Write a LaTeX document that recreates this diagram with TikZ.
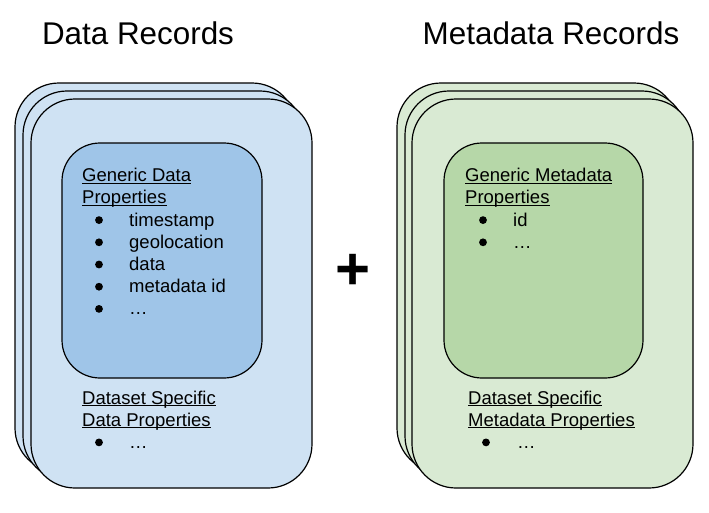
\documentclass[tikz,border=0pt]{standalone}
\usepackage{fontspec}
\setmainfont{Liberation Sans}
\definecolor{bluecard}{HTML}{CFE2F3}
\definecolor{blueinner}{HTML}{9FC5E8}
\definecolor{greencard}{HTML}{D9EAD3}
\definecolor{greeninner}{HTML}{B6D7A8}
\newcommand{\ulx}[1]{\underline{\smash{#1}}}
\begin{document}
\begin{tikzpicture}[x=1pt,y=-1pt,
  card/.style={draw=black, line width=1.2pt, rectangle, rounded corners=44pt,
    minimum width=281pt, minimum height=389pt, inner sep=0pt},
  innerbox/.style={draw=black, line width=1.2pt, rectangle, rounded corners=38pt,
    minimum width=200pt, minimum height=235pt, inner sep=0pt},
  title/.style={font=\fontsize{31.4}{36}\selectfont, inner sep=0pt, anchor=base},
  txt/.style={font=\fontsize{18.5}{22}\selectfont, inner sep=0pt, anchor=base west},
  bul/.style={circle, fill=black, minimum size=7.8pt, inner sep=0pt}
]
\useasboundingbox (0,0) rectangle (709,512);
\fill[white] (0,0) rectangle (709,512);

% titles
\node[title] (t1) at (138,44) {Data Records};
\node[title] (t2) at (551,44) {Metadata Records};

% left stack
\node[card, fill=bluecard] (lc1) at (155.5,277.5) {};
\node[card, fill=bluecard] (lc2) at (163.5,285.5) {};
\node[card, fill=bluecard] (lc3) at (171.5,293.5) {};
\node[innerbox, fill=blueinner] (li) at (162,260.5) {};

\node[txt] (lg1) at (82,181.7) {\ulx{Generic Data}};
\node[txt] (lg2) at (82,203.9) {\ulx{Properties}};
\foreach \y/\t [count=\i] in {226.1/timestamp, 248.3/geolocation, 270.5/data, 292.7/metadata id, 314.9/\dots}{
  \node[bul] (lb\i) at (99,\y-6) {};
  \node[txt] (lt\i) at (129,\y) {\t};
}
\node[txt] (ld1) at (82,404) {\ulx{Dataset Specific}};
\node[txt] (ld2) at (82,426.2) {\ulx{Data Properties}};
\node[bul] (ldb) at (99,442.4) {};
\node[txt] (ldt) at (129,448.4) {\dots};

% plus
\node[font=\fontsize{60}{60}\selectfont\bfseries, inner sep=0pt, anchor=base] (plus) at (353,289) {+};

% right stack
\node[card, fill=greencard] (rc1) at (537.5,277.5) {};
\node[card, fill=greencard] (rc2) at (545.5,285.5) {};
\node[card, fill=greencard] (rc3) at (552.5,293.5) {};
\node[innerbox, fill=greeninner, minimum width=199pt] (ri) at (543.5,260.5) {};

\node[txt] (rg1) at (465,181.7) {\ulx{Generic Metadata}};
\node[txt] (rg2) at (465,203.9) {\ulx{Properties}};
\foreach \y/\t [count=\i] in {226.1/id, 248.3/\dots}{
  \node[bul] (rb\i) at (483,\y-6) {};
  \node[txt] (rt\i) at (513,\y) {\t};
}
\node[txt] (rd1) at (468,404) {\ulx{Dataset Specific}};
\node[txt] (rd2) at (468,426.2) {\ulx{Metadata Properties}};
\node[bul] (rdb) at (486,442.4) {};
\node[txt] (rdt) at (517,448.4) {\dots};
\end{tikzpicture}
\end{document}
